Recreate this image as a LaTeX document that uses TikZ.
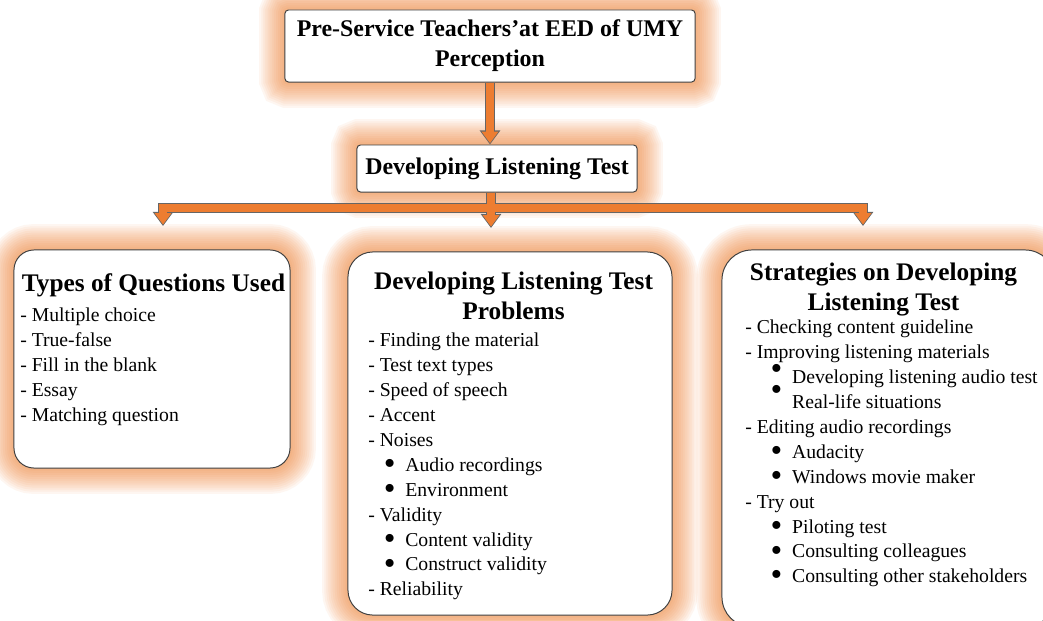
\documentclass[tikz,border=0pt]{standalone}
\usepackage{fontspec}
\usepackage{graphicx}
\setmainfont{Liberation Serif}
\usetikzlibrary{arrows.meta,backgrounds}
\definecolor{flowc}{RGB}{237,125,49}
\definecolor{glowc}{RGB}{240,128,48}
\newcommand{\bigbullet}{\raisebox{-2.2pt}[0pt][0pt]{\scalebox{1.7}{\textbullet}}}
\newcommand{\sublead}[1]{\hspace*{#1}\bigbullet\hspace{7pt}}
\newcommand{\flowpaths}[1]{%
	\draw[#1] (top.south) -- (top.south |- mid.north);
	\draw[#1,-] (mid.south -| split) -- (split);
	\draw[#1] (split) -| (qtip);
	\draw[#1] (split) -| (stip);
	\draw[#1] (split) -- (ptip)}

\tikzset{
	box/.style={draw=black!75,line width=0.7pt,fill=white,rounded corners=#1},
	box/.default=2.5pt,
	glowring/.style={draw=glowc,draw opacity=.068,line width=#1},
	title/.style={font=\bfseries\fontsize{17}{21.5}\selectfont,align=center},
	head/.style={font=\bfseries\fontsize{18}{21.3}\selectfont,align=center,inner sep=0pt},
	list/.style={font=\fontsize{14}{17.7}\selectfont,align=left,anchor=north west,inner sep=0pt},
	flowedge/.style={line width=7pt,draw=black!60,-{Triangle[width=14pt,length=10pt]}},
	flow/.style={line width=5.4pt,draw=flowc,shorten >=1pt,-{Triangle[width=11.5pt,length=8.2pt]}}
}

\begin{document}
\begin{tikzpicture}[x=0.025cm,y=-0.025cm]
	\useasboundingbox (0,0) rectangle (1043,620);
	\clip (0,0) rectangle (1043,620);

	% upper part
	\node[box,title,minimum width=10.25cm,minimum height=1.8cm] (top) at (490,46)
		{Pre-Service Teachers’at EED of UMY\\Perception};
	\node[box,title,minimum width=7cm,minimum height=1.175cm] (mid) at (497,168.5)
		{Developing Listening Test};

	% the three branches
	\node[box=0.5cm,minimum width=6.9cm,minimum height=5.45cm] (qbox) at (152,359) {};
	\node[box=0.62cm,minimum width=8.1cm,minimum height=9.075cm] (pbox) at (510,433.5) {};
	\node[box=0.75cm,minimum width=8.325cm,minimum height=9.425cm] (sbox) at (888.5,438.5) {};

	\node[head,anchor=base] (qhead) at (153.5,291) {Types of Questions Used};
	\node[list] (qlist) at (20,308) {- Multiple choice\\- True-false\\- Fill in the blank\\- Essay\\- Matching question};

	\node[head,anchor=north] (phead) at (513.5,272) {Developing Listening Test\\Problems};
	\node[list] (plist) at (368,333) {- Finding the material\\- Test text types\\- Speed of speech\\- Accent\\- Noises\\
		\sublead{11pt}Audio recordings\\\sublead{11pt}Environment\\- Validity\\
		\sublead{11pt}Content validity\\\sublead{11pt}Construct validity\\- Reliability};

	\node[head,anchor=north] (shead) at (883.5,263) {Strategies on Developing\\Listening Test};
	\node[list] (slist) at (745,320) {- Checking content guideline\\- Improving listening materials\\
		\hspace*{18pt}\raisebox{5pt}[0pt][0pt]{\bigbullet}\hspace{7pt}Developing listening audio test\\
		\hspace*{18pt}\raisebox{8pt}[0pt][0pt]{\bigbullet}\hspace{7pt}Real-life situations\\
		- Editing audio recordings\\\sublead{18pt}Audacity\\\sublead{18pt}Windows movie maker\\
		- Try out\\\sublead{18pt}Piloting test\\\sublead{18pt}Consulting colleagues\\
		\sublead{18pt}Consulting other stakeholders};

	% soft orange glow behind the boxes
	\begin{pgfonlayer}{background}
		\fill[white] (0,0) rectangle (1043,620);
		\foreach \n/\r in {top/2.5pt,mid/2.5pt,qbox/0.5cm,pbox/0.62cm,sbox/0.75cm}
			\foreach \w in {3,6,...,36}
				\draw[glowring=\w pt,rounded corners=\r] (\n.north west) rectangle (\n.south east);
	\end{pgfonlayer}

	% orange connectors
	\coordinate (split) at (491,208);
	\coordinate (qtip) at (163,226);
	\coordinate (ptip) at (491,228);
	\coordinate (stip) at (863,226);
	\flowpaths{flowedge};
	\flowpaths{flow};
\end{tikzpicture}
\end{document}
